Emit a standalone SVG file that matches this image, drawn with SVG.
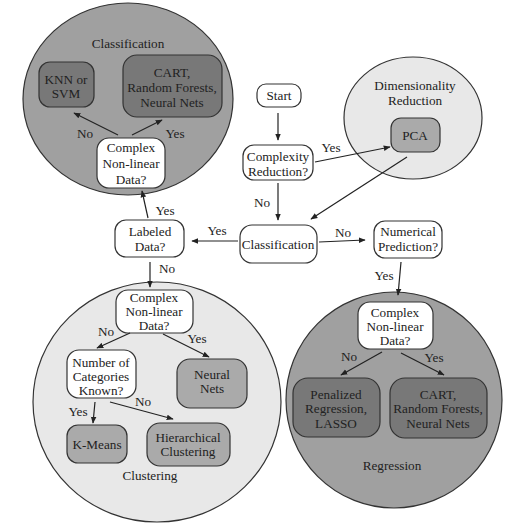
<svg xmlns="http://www.w3.org/2000/svg" width="527" height="526" viewBox="0 0 527 526">
<defs>
<marker id="ah" viewBox="0 0 10 10" refX="9" refY="5" markerWidth="7" markerHeight="7" markerUnits="userSpaceOnUse" orient="auto">
<path d="M0,1 L10,5 L0,9 Z" fill="#222"/>
</marker>
</defs>
<style>
text{font-family:"Liberation Serif","DejaVu Serif",serif;font-size:13.2px;fill:#222;text-anchor:middle}
.reg{stroke:#333;stroke-width:1.2}
.dark{fill:#a0a0a0}
.light{fill:#e8e8e8}
.box{stroke:#333;stroke-width:1.2}
.w{fill:#fff}
.g1{fill:#787878}
.g2{fill:#aaaaaa}
.c line{stroke:#222;stroke-width:1.2;marker-end:url(#ah)}
</style>
<rect width="527" height="526" fill="#fff"/>
<g id="region-classification">
<ellipse class="reg dark" cx="128" cy="99" rx="105" ry="96"/>
<text x="128" y="48">Classification</text>
</g>
<g id="region-dimred">
<ellipse class="reg light" cx="413" cy="118" rx="69" ry="61"/>
<text x="415" y="90">Dimensionality</text>
<text x="415" y="105">Reduction</text>
</g>
<g id="region-clustering">
<ellipse class="reg light" cx="157" cy="402" rx="124" ry="120"/>
<text x="150" y="480">Clustering</text>
</g>
<g id="region-regression">
<ellipse class="reg dark" cx="394" cy="400" rx="108" ry="108"/>
<text x="392" y="470">Regression</text>
</g>
<g id="knn">
<rect class="box g1" x="39" y="62" width="55" height="45" rx="11"/>
<text x="66" y="84">KNN or</text><text x="66" y="98">SVM</text>
</g>
<g id="cart1">
<rect class="box g1" x="123" y="55" width="99" height="62" rx="14"/>
<text x="172" y="77">CART,</text><text x="172" y="92">Random Forests,</text><text x="172" y="107">Neural Nets</text>
</g>
<g id="cnl1">
<rect class="box w" x="97" y="138" width="68" height="50" rx="12"/>
<text x="131" y="152">Complex</text><text x="131" y="168">Non-linear</text><text x="131" y="184">Data?</text>
</g>
<g id="start">
<rect class="box w" x="257" y="84" width="44" height="23" rx="9"/>
<text x="279" y="100">Start</text>
</g>
<g id="complexity">
<rect class="box w" x="243" y="145" width="70" height="35" rx="11"/>
<text x="278" y="161">Complexity</text><text x="278" y="176">Reduction?</text>
</g>
<g id="pca">
<rect class="box g2" x="391" y="118" width="49" height="34" rx="10"/>
<text x="415" y="140">PCA</text>
</g>
<g id="classification">
<rect class="box w" x="240" y="225" width="77" height="38" rx="12"/>
<text x="278" y="249">Classification</text>
</g>
<g id="numerical">
<rect class="box w" x="374" y="221" width="68" height="37" rx="11"/>
<text x="408" y="236">Numerical</text><text x="408" y="251">Prediction?</text>
</g>
<g id="labeled">
<rect class="box w" x="115" y="220" width="69" height="37" rx="11"/>
<text x="150" y="236">Labeled</text><text x="150" y="251">Data?</text>
</g>
<g id="cnl2">
<rect class="box w" x="116" y="290" width="77" height="43" rx="12"/>
<text x="154" y="302">Complex</text><text x="154" y="316">Non-linear</text><text x="154" y="330">Data?</text>
</g>
<g id="numcat">
<rect class="box w" x="67" y="350" width="69" height="48" rx="12"/>
<text x="101" y="367">Number of</text><text x="101" y="381">Categories</text><text x="101" y="395">Known?</text>
</g>
<g id="neural">
<rect class="box g2" x="177" y="359" width="70" height="49" rx="13"/>
<text x="212" y="379">Neural</text><text x="212" y="393">Nets</text>
</g>
<g id="kmeans">
<rect class="box g2" x="67" y="425" width="60" height="38" rx="11"/>
<text x="97" y="449">K-Means</text>
</g>
<g id="hier">
<rect class="box g2" x="147" y="423" width="83" height="43" rx="13"/>
<text x="188" y="442">Hierarchical</text><text x="188" y="456">Clustering</text>
</g>
<g id="cnl3">
<rect class="box w" x="358" y="302" width="75" height="47" rx="12"/>
<text x="395" y="317">Complex</text><text x="395" y="331">Non-linear</text><text x="395" y="345">Data?</text>
</g>
<g id="penal">
<rect class="box g1" x="293" y="378" width="87" height="59" rx="15"/>
<text x="336" y="399">Penalized</text><text x="336" y="413">Regression,</text><text x="336" y="428">LASSO</text>
</g>
<g id="cart2">
<rect class="box g1" x="390" y="378" width="97" height="60" rx="15"/>
<text x="438" y="399">CART,</text><text x="438" y="413">Random Forests,</text><text x="438" y="428">Neural Nets</text>
</g>
<g id="connectors" class="c">
<line x1="118" y1="135" x2="74" y2="113"/>
<line x1="132" y1="135" x2="162" y2="120"/>
<line x1="148" y1="218" x2="142" y2="191"/>
<line x1="278" y1="113" x2="278" y2="140"/>
<line x1="315" y1="162" x2="390" y2="147"/>
<line x1="407" y1="157" x2="311" y2="219"/>
<line x1="278" y1="183" x2="278" y2="220"/>
<line x1="319" y1="242" x2="365" y2="240"/>
<line x1="238" y1="241" x2="192" y2="241"/>
<line x1="150" y1="262" x2="150" y2="287"/>
<line x1="130" y1="333" x2="97" y2="348"/>
<line x1="163" y1="334" x2="209" y2="357"/>
<line x1="95" y1="402" x2="93" y2="423"/>
<line x1="110" y1="402" x2="173" y2="419"/>
<line x1="401" y1="262" x2="398" y2="295"/>
<line x1="382" y1="352" x2="341" y2="375"/>
<line x1="401" y1="353" x2="444" y2="375"/>
</g>
<g id="labels">
<text x="85" y="138">No</text>
<text x="175" y="138">Yes</text>
<text x="165" y="215">Yes</text>
<text x="331" y="152">Yes</text>
<text x="262" y="207">No</text>
<text x="343" y="237">No</text>
<text x="384" y="280">Yes</text>
<text x="217" y="235">Yes</text>
<text x="167" y="273">No</text>
<text x="106" y="336">No</text>
<text x="197" y="343">Yes</text>
<text x="78" y="416">Yes</text>
<text x="143" y="406">No</text>
<text x="349" y="361">No</text>
<text x="434" y="362">Yes</text>
</g>
</svg>
